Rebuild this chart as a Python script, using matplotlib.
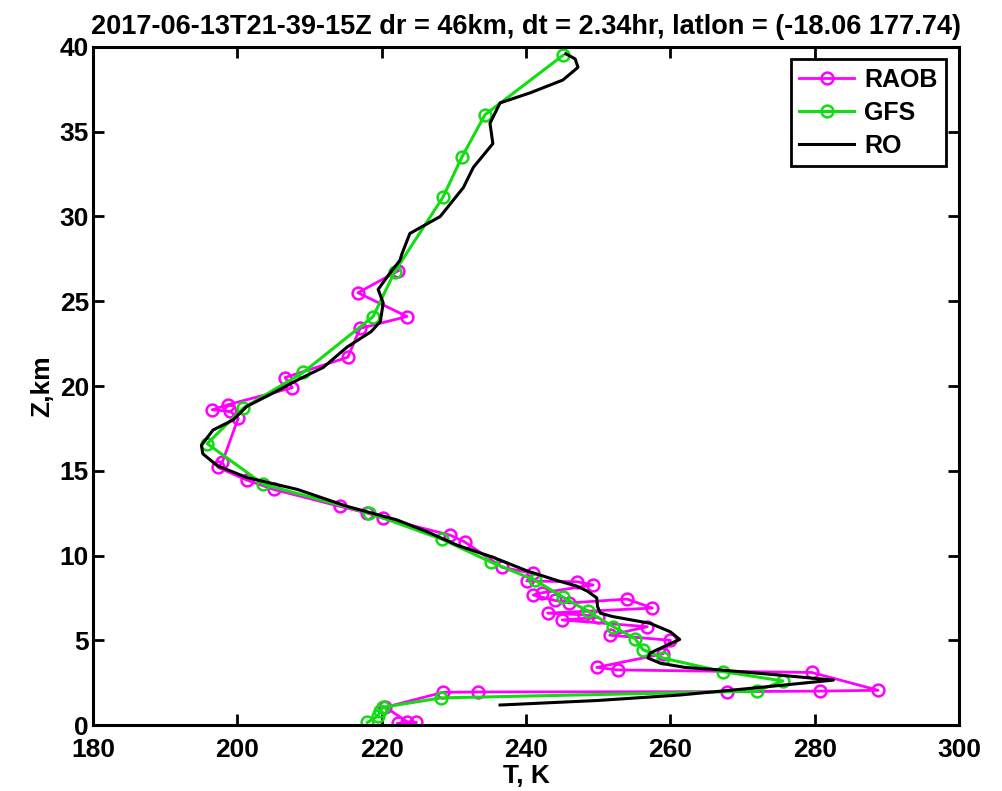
import matplotlib
matplotlib.use('Agg')
import matplotlib.pyplot as plt
from matplotlib import font_manager

# radiosonde (RAOB) profile: temperature K, height km
raob_t = [222.2, 224.8, 223.5, 220.5, 228.5, 233.3, 267.8, 280.7, 288.8, 279.6,
          252.7, 249.8, 259.0, 260.0, 251.6, 256.8, 245.0, 250.0, 248.0, 243.0,
          257.5, 254.0, 246.0, 244.0, 241.0, 242.2, 249.3, 247.1, 240.1, 241.0,
          236.7, 231.5, 229.5, 220.2, 218.0, 214.2, 205.0, 201.3, 197.3, 197.9,
          200.1, 199.0, 196.5, 198.7, 207.6, 206.6, 215.3, 217.0, 223.5, 216.7,
          222.3]
raob_z = [0.10, 0.15, 0.20, 1.05, 1.93, 1.95, 1.97, 2.00, 2.05, 3.10,
          3.25, 3.40, 4.20, 5.00, 5.30, 5.80, 6.20, 6.35, 6.50, 6.60,
          6.90, 7.43, 7.20, 7.35, 7.67, 7.80, 8.26, 8.45, 8.50, 8.95,
          9.30, 10.80, 11.20, 12.20, 12.50, 12.90, 13.90, 14.45, 15.20, 15.50,
          18.10, 18.50, 18.60, 18.90, 19.90, 20.50, 21.70, 23.40, 24.10, 25.50,
          26.80]

# GFS model profile
gfs_t = [218.0, 219.5, 219.8, 220.2, 228.2, 272.0, 275.6, 267.3, 259.0, 256.2,
         255.1, 252.1, 248.6, 245.1, 241.2, 235.2, 228.4, 218.3, 203.6, 195.8,
         200.8, 209.1, 218.8, 221.8, 228.5, 231.1, 234.3, 245.1]
gfs_z = [0.15, 0.55, 0.85, 1.05, 1.60, 2.00, 2.60, 3.15, 3.95, 4.45,
         5.10, 5.80, 6.70, 7.55, 8.55, 9.60, 10.95, 12.50, 14.20, 16.60,
         18.70, 20.80, 24.10, 26.75, 31.15, 33.50, 36.00, 39.50]

# radio occultation (RO) profile
ro_t = [236.4, 250.0, 261.3, 272.0, 282.6, 275.0, 266.9, 262.0, 258.6, 256.9,
        257.2, 259.5, 261.3, 260.0, 257.2, 252.0, 250.3, 249.9, 249.8, 248.5,
        247.0, 244.5, 240.1, 235.4, 230.5, 226.3, 222.1, 215.2, 208.3, 201.3,
        197.2, 195.2, 195.0, 196.6, 199.4, 201.3, 205.0, 208.3, 211.9, 215.2,
        218.5, 219.8, 220.2, 219.5, 221.2, 222.5, 222.8, 223.9, 228.1, 231.3,
        232.7, 235.4, 235.0, 236.4, 240.6, 245.1, 247.2, 246.8, 245.5]
ro_z = [1.18, 1.45, 1.77, 2.20, 2.65, 2.95, 3.25, 3.40, 3.65, 3.95,
        4.25, 4.70, 5.05, 5.50, 6.00, 6.40, 6.60, 7.00, 7.50, 7.90,
        8.20, 8.50, 9.10, 9.90, 10.60, 11.40, 12.10, 12.90, 13.90, 14.60,
        15.30, 16.00, 16.50, 17.40, 18.00, 18.80, 19.60, 20.35, 21.10, 22.30,
        23.20, 23.80, 24.90, 25.70, 26.70, 27.40, 27.80, 29.00, 30.00, 31.70,
        32.90, 34.30, 35.50, 36.70, 37.30, 38.05, 38.80, 39.30, 39.60]

xticks = [180, 200, 220, 240, 260, 280, 300]
yticks = [0, 5, 10, 15, 20, 25, 30, 35, 40]

names = {f.name for f in font_manager.fontManager.ttflist}
fam = 'Liberation Sans Narrow' if 'Liberation Sans Narrow' in names else 'Liberation Sans'
plt.rcParams['font.family'] = [fam, 'DejaVu Sans']
plt.rcParams['font.weight'] = 'bold'

fig = plt.figure(figsize=(10.02, 7.91), dpi=100)
ax = fig.add_axes([0.093, 0.0834, 0.864, 0.8572])

ax.plot(raob_t, raob_z, '-o', color='#ff00ff', lw=2.0, ms=8.5, mfc='none', mew=1.8, label='RAOB')
ax.plot(gfs_t, gfs_z, '-o', color='#11dd11', lw=2.2, ms=8.5, mfc='none', mew=1.8, label='GFS')
ax.plot(ro_t, ro_z, '-', color='black', lw=2.2, label='RO')

ax.set_xlim(180, 300)
ax.set_ylim(0, 40)
ax.set_xticks(xticks)
ax.set_yticks(yticks)
ax.tick_params(direction='in', length=8, width=2, top=True, right=True, labelsize=19)
ax.tick_params(axis='x', pad=9.5)
ax.tick_params(axis='y', pad=3)
for s in ax.spines.values():
    s.set_linewidth(2.2)

ax.set_xlabel('T, K', fontsize=19, fontweight='bold', labelpad=1.5)
ax.set_ylabel('Z,km', fontsize=19, fontweight='bold', labelpad=4)
ax.set_title('2017-06-13T21-39-15Z dr = 46km, dt = 2.34hr, latlon = (-18.06 177.74)',
             fontsize=19.5, fontweight='bold', pad=9)

leg = ax.legend(loc='upper right', fontsize=18, fancybox=False, edgecolor='black',
                borderaxespad=0.5, handlelength=2.2, handletextpad=0.4, framealpha=1,
                borderpad=0.35, labelspacing=0.35)
leg.get_frame().set_linewidth(2)

fig.savefig('out.png', dpi=100)
